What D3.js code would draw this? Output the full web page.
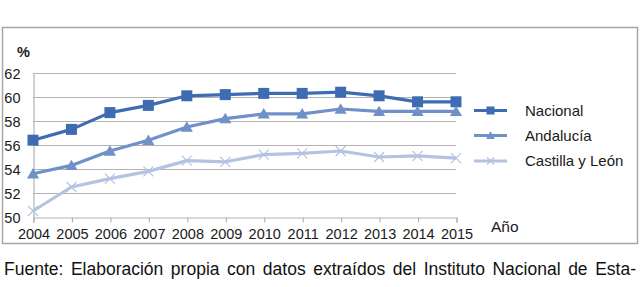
<!DOCTYPE html>
<html>
<head>
<meta charset="utf-8">
<script src="https://cdn.jsdelivr.net/npm/d3@7"></script>
<style>
  html, body { margin: 0; padding: 0; background: #fff; }
  svg { display: block; font-family: "Liberation Sans", Arial, sans-serif; }
</style>
</head>
<body>
<svg id="chart" width="642" height="287"></svg>
<script>
// ---------------------------------------------------------------------------
// Data
// ---------------------------------------------------------------------------
const years = ["2004", "2005", "2006", "2007", "2008", "2009",
               "2010", "2011", "2012", "2013", "2014", "2015"];
const nacional  = [56.4, 57.3, 58.7, 59.3, 60.1, 60.2, 60.3, 60.3, 60.4, 60.1, 59.6, 59.6];
const andalucia = [53.6, 54.3, 55.5, 56.4, 57.5, 58.2, 58.6, 58.6, 59.0, 58.8, 58.8, 58.8];
const castilla  = [50.5, 52.5, 53.2, 53.8, 54.7, 54.6, 55.2, 55.3, 55.5, 55.0, 55.1, 54.9];
const yTicks    = [50, 52, 54, 56, 58, 60, 62];
const caption   = "Fuente: Elaboración propia con datos extraídos del Instituto Nacional de Esta-";

const series = [
  { name: "Nacional",        values: nacional,  color: "#3e6cb2", marker: "square" },
  { name: "Andalucía",       values: andalucia, color: "#6f91c8", marker: "triangle" },
  { name: "Castilla y León", values: castilla,  color: "#b3c3e1", marker: "cross" }
];

// ---------------------------------------------------------------------------
// Layout
// ---------------------------------------------------------------------------
const FONT = "Liberation Sans, Arial, sans-serif";
const svg = d3.select("#chart");
const plot = { left: 33, right: 456, top: 73, bottom: 217 };

const x = d3.scalePoint().domain(years).range([plot.left, plot.right]);
const y = d3.scaleLinear().domain([50, 62]).range([plot.bottom, plot.top]);

// Outer frame
svg.append("rect")
  .attr("x", 2.5).attr("y", 27.5)
  .attr("width", 635).attr("height", 216)
  .attr("fill", "none").attr("stroke", "#a6a6a6").attr("stroke-width", 1.5);

// Horizontal gridlines
svg.append("g").selectAll("line")
  .data(yTicks.filter(t => t > 50))
  .join("line")
  .attr("x1", plot.left).attr("x2", plot.right)
  .attr("y1", d => Math.round(y(d)) + 0.5).attr("y2", d => Math.round(y(d)) + 0.5)
  .attr("stroke", "#b3b3b3").attr("stroke-width", 1.2);

// Y axis
const yAxis = svg.append("g")
  .attr("transform", `translate(${plot.left + 0.5},0.5)`)
  .call(d3.axisLeft(y).tickValues(yTicks).tickSize(0).tickPadding(13));
yAxis.select(".domain").attr("stroke", "#b3b3b3").attr("stroke-width", 1.2);
yAxis.selectAll("text")
  .attr("font-size", 14.5).attr("fill", "#1a1a1a").attr("font-family", FONT);

// X axis
const xAxis = svg.append("g")
  .attr("transform", `translate(0.5,${plot.bottom + 0.5})`)
  .call(d3.axisBottom(x).tickSize(5).tickPadding(6.5));
xAxis.select(".domain").attr("stroke", "#b3b3b3").attr("stroke-width", 1.2);
xAxis.selectAll(".tick line").attr("stroke", "#b3b3b3").attr("stroke-width", 1.2);
xAxis.selectAll("text")
  .attr("font-size", 14.5).attr("fill", "#1a1a1a").attr("font-family", FONT);

// Axis titles
svg.append("text")
  .attr("x", 17).attr("y", 57)
  .attr("font-size", 14.5).attr("font-weight", "bold").attr("fill", "#1a1a1a")
  .text("%");
svg.append("text")
  .attr("x", 491).attr("y", 231.5)
  .attr("font-size", 15.5).attr("fill", "#1a1a1a")
  .text("Año");

// ---------------------------------------------------------------------------
// Markers
// ---------------------------------------------------------------------------
function drawMarker(sel, kind, size, color) {
  const h = size / 2;
  if (kind === "square") {
    sel.append("rect")
      .attr("x", -h).attr("y", -h).attr("width", size).attr("height", size)
      .attr("fill", color);
  } else if (kind === "triangle") {
    sel.append("path")
      .attr("d", `M0,${-h * 1.05}L${h * 1.1},${h * 0.85}L${-h * 1.1},${h * 0.85}Z`)
      .attr("fill", color);
  } else {
    sel.append("path")
      .attr("d", `M${-h},${-h}L${h},${h}M${-h},${h}L${h},${-h}`)
      .attr("stroke", color).attr("stroke-width", 1.2).attr("fill", "none");
  }
}

// Lines and points
const line = d3.line()
  .x((d, i) => x(years[i]))
  .y(d => y(d));

series.forEach(s => {
  svg.append("path")
    .attr("d", line(s.values))
    .attr("fill", "none")
    .attr("stroke", s.color)
    .attr("stroke-width", 3.2)
    .attr("stroke-linejoin", "round");

  s.values.forEach((v, i) => {
    const g = svg.append("g")
      .attr("transform", `translate(${x(years[i])},${y(v)})`);
    drawMarker(g, s.marker, s.marker === "cross" ? 10 : 11, s.color);
  });
});

// ---------------------------------------------------------------------------
// Legend
// ---------------------------------------------------------------------------
const legendY = [110.5, 135.5, 161];
series.forEach((s, i) => {
  const g = svg.append("g").attr("transform", `translate(474,${legendY[i]})`);
  g.append("line")
    .attr("x1", 0).attr("x2", 33)
    .attr("stroke", s.color).attr("stroke-width", 3);
  const m = g.append("g").attr("transform", "translate(16.5,0)");
  drawMarker(m, s.marker, s.marker === "cross" ? 7 : 8, s.color);
  g.append("text")
    .attr("x", 51).attr("y", 5.3)
    .attr("font-size", 15).attr("fill", "#1a1a1a")
    .text(s.name);
});

// ---------------------------------------------------------------------------
// Caption below the chart: justified, so words are spread over the line
// ---------------------------------------------------------------------------
const capLeft = 4, capRight = 636, capBase = 274.5;
const words = caption.split(" ");
const capG = svg.append("g");
const wordNodes = words.map(w => capG.append("text")
  .attr("y", capBase)
  .attr("font-size", 17.5).attr("fill", "#111")
  .text(w));
const widths = wordNodes.map(n => n.node().getComputedTextLength());
const gap = (capRight - capLeft - d3.sum(widths)) / (words.length - 1);
let cx = capLeft;
wordNodes.forEach((n, i) => {
  n.attr("x", cx);
  cx += widths[i] + gap;
});
</script>
</body>
</html>
